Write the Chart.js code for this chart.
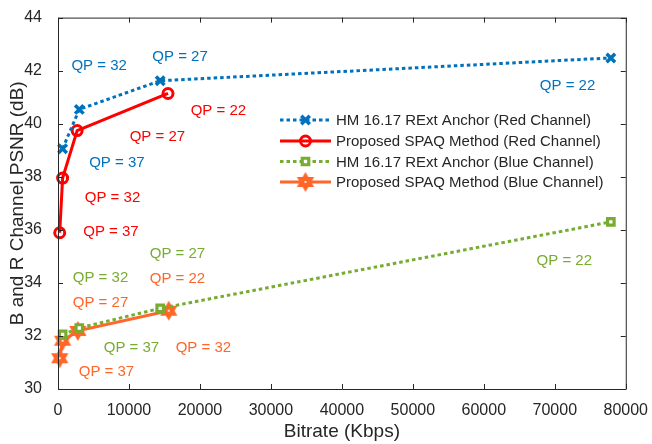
<!DOCTYPE html>
<html>
<head>
<meta charset="utf-8">
<script src="https://cdn.jsdelivr.net/npm/chart.js"></script>
<style>
  body { margin: 0; background: #fff; }
  #wrap { width: 652px; height: 444px; }
</style>
</head>
<body>
<div id="wrap"><canvas id="rdChart" width="652" height="444"></canvas></div>
<script>
// ── data ───────────────────────────────────────────────
const qpLabels = ['QP = 37', 'QP = 32', 'QP = 27', 'QP = 22'];

const bitrateAnchorR = [650, 3000, 14400, 77900];
const psnrAnchorR    = [39.06, 40.54, 41.62, 42.48];
const bitrateSpaqR   = [240, 650, 2700, 15500];
const psnrSpaqR      = [35.89, 37.95, 39.74, 41.14];
const bitrateAnchorB = [650, 3000, 14400, 77900];
const psnrAnchorB    = [32.06, 32.3, 33.04, 36.3];
const bitrateSpaqB   = [240, 650, 2800, 15600];
const psnrSpaqB      = [31.16, 31.82, 32.19, 32.95];

// where each QP label sits, in data units
const lblXAnchorR = [8300, 5800, 17200, 71800];
const lblYAnchorR = [38.53, 42.18, 42.51, 41.44];
const lblXSpaqR   = [7460, 7680, 14010, 22600];
const lblYSpaqR   = [35.93, 37.19, 39.51, 40.47];
const lblXAnchorB = [10350, 5990, 16830, 71340];
const lblYAnchorB = [31.55, 34.19, 35.09, 34.82];
const lblXSpaqB   = [6830, 20490, 5990, 16830];
const lblYSpaqB   = [30.65, 31.56, 33.23, 34.16];

const xTicks = [0, 10000, 20000, 30000, 40000, 50000, 60000, 70000, 80000];
const yTicks = [30, 32, 34, 36, 38, 40, 42, 44];

const FONT = "'Liberation Sans', Arial, Helvetica, sans-serif";
const AXIS = '#262626';
const BLUE = '#0072BD', RED = '#FF0000', GREEN = '#77AC30', ORANGE = '#FF6628';

const pts = (xs, ys) => xs.map((x, i) => ({ x, y: ys[i] }));

// ── hexagram marker ───────────────────────────────────
function hexagram(color) {
    const c = document.createElement('canvas');
    c.width = 22; c.height = 22;
    const g = c.getContext('2d');
    const R = 8, r = R / Math.sqrt(3);
    g.beginPath();
    for (let i = 0; i < 12; i++) {
        const a = -Math.PI / 2 + i * Math.PI / 6;
        const rr = i % 2 ? r : R;
        g.lineTo(11 + rr * Math.cos(a), 11 + rr * Math.sin(a));
    }
    g.closePath();
    g.fillStyle = color;
    g.fill();
    g.lineJoin = 'miter';
    g.lineWidth = 2;
    g.strokeStyle = color;
    g.stroke();
    g.fillStyle = '#fff';
    g.beginPath();
    g.arc(11, 11, 1.1, 0, Math.PI * 2);
    g.fill();
    return c;
}
const starImg = hexagram(ORANGE);

const series = [
    { label: 'HM 16.17 RExt Anchor (Red Channel)', data: pts(bitrateAnchorR, psnrAnchorR),
      color: BLUE, dash: [3.5, 3], style: 'crossRot', radius: 6, bw: 3.5, fill: BLUE,
      lx: lblXAnchorR, ly: lblYAnchorR },
    { label: 'Proposed SPAQ Method (Red Channel)', data: pts(bitrateSpaqR, psnrSpaqR),
      color: RED, dash: [], style: 'circle', radius: 5, bw: 3, fill: 'rgba(255,255,255,0)',
      lx: lblXSpaqR, ly: lblYSpaqR },
    { label: 'HM 16.17 RExt Anchor (Blue Channel)', data: pts(bitrateAnchorB, psnrAnchorB),
      color: GREEN, dash: [3.5, 3], style: 'rect', radius: 4.6, bw: 3.2, fill: '#fff',
      lx: lblXAnchorB, ly: lblYAnchorB },
    { label: 'Proposed SPAQ Method (Blue Channel)', data: pts(bitrateSpaqB, psnrSpaqB),
      color: ORANGE, dash: [], style: starImg, radius: 8, bw: 0, fill: ORANGE,
      lx: lblXSpaqB, ly: lblYSpaqB }
];

// ── frame, inward ticks, labels, legend ───────────────
const decor = {
    id: 'decor',
    afterDatasetsDraw(chart) {
        const ctx = chart.ctx;
        const { left, right, top, bottom } = chart.chartArea;
        const xs = chart.scales.x, ys = chart.scales.y;

        // QP annotations
        ctx.save();
        ctx.font = '15px ' + FONT;
        ctx.textAlign = 'center';
        ctx.textBaseline = 'middle';
        series.forEach(s => {
            ctx.fillStyle = s.color;
            qpLabels.forEach((t, i) => {
                ctx.fillText(t, xs.getPixelForValue(s.lx[i]), ys.getPixelForValue(s.ly[i]));
            });
        });
        ctx.restore();

        // box + inward ticks
        ctx.save();
        ctx.strokeStyle = AXIS;
        ctx.lineWidth = 1;
        ctx.beginPath();
        ctx.rect(left + 0.5, top + 0.5, right - left, bottom - top);
        xTicks.forEach(v => {
            const p = Math.round(xs.getPixelForValue(v)) + 0.5;
            ctx.moveTo(p, bottom); ctx.lineTo(p, bottom - 5);
            ctx.moveTo(p, top); ctx.lineTo(p, top + 5);
        });
        yTicks.forEach(v => {
            const p = Math.round(ys.getPixelForValue(v)) + 0.5;
            ctx.moveTo(left, p); ctx.lineTo(left + 5, p);
            ctx.moveTo(right, p); ctx.lineTo(right - 5, p);
        });
        ctx.stroke();

        // axis titles
        ctx.fillStyle = AXIS;
        ctx.font = '19px ' + FONT;
        ctx.textAlign = 'center';
        ctx.textBaseline = 'middle';
        ctx.fillText('Bitrate (Kbps)', (left + right) / 2, 432);
        ctx.translate(18, (top + bottom) / 2);
        ctx.rotate(-Math.PI / 2);
        ctx.fillText('B and R Channel PSNR (dB)', 0, 0);
        ctx.restore();

        // legend
        ctx.save();
        const lx0 = 280, lx1 = 331, rowY = [120, 141, 161.5, 182];
        series.forEach((s, i) => {
            const y = rowY[i];
            ctx.strokeStyle = s.color;
            ctx.lineWidth = 3;
            ctx.lineCap = 'butt';
            ctx.setLineDash(s.dash);
            ctx.beginPath();
            ctx.moveTo(lx0, y); ctx.lineTo(lx1, y);
            ctx.stroke();
            ctx.setLineDash([]);
            ctx.fillStyle = s.fill;
            ctx.strokeStyle = s.color;
            ctx.lineWidth = s.bw;
            Chart.helpers.drawPoint(ctx, {
                pointStyle: s.style, radius: s.radius, borderWidth: s.bw, rotation: 0
            }, (lx0 + lx1) / 2, y);
            ctx.fillStyle = AXIS;
            ctx.font = '15px ' + FONT;
            ctx.textAlign = 'left';
            ctx.textBaseline = 'middle';
            ctx.fillText(s.label, 336, y + 1);
        });
        ctx.restore();
    }
};

new Chart(document.getElementById('rdChart'), {
    type: 'line',
    data: {
        datasets: series.map(s => ({
            label: s.label,
            data: s.data,
            borderColor: s.color,
            borderWidth: 3,
            borderDash: s.dash,
            borderCapStyle: 'butt',
            backgroundColor: s.fill,
            pointStyle: s.style,
            pointRadius: s.radius,
            pointBorderWidth: s.bw,
            pointBorderColor: s.color,
            pointBackgroundColor: s.fill,
            tension: 0,
            fill: false,
            clip: 12
        }))
    },
    options: {
        responsive: false,
        animation: false,
        layout: { padding: { top: 12, right: 26, left: 0, bottom: 0 } },
        plugins: { legend: { display: false }, tooltip: { enabled: false } },
        scales: {
            x: {
                type: 'linear',
                min: 0, max: 80000,
                grid: { display: false },
                border: { display: false },
                afterFit: s => { s.height = 55; },
                afterBuildTicks: s => { s.ticks = xTicks.map(v => ({ value: v })); },
                ticks: { color: AXIS, font: { family: FONT, size: 16 }, padding: 4, maxRotation: 0,
                         callback: v => String(v) }
            },
            y: {
                min: 30, max: 44,
                grid: { display: false },
                border: { display: false },
                afterFit: s => { s.width = 58; },
                afterBuildTicks: s => { s.ticks = yTicks.map(v => ({ value: v })); },
                ticks: { color: AXIS, font: { family: FONT, size: 16 }, padding: 8,
                         callback: v => String(v) }
            }
        }
    },
    plugins: [decor]
});
</script>
</body>
</html>
